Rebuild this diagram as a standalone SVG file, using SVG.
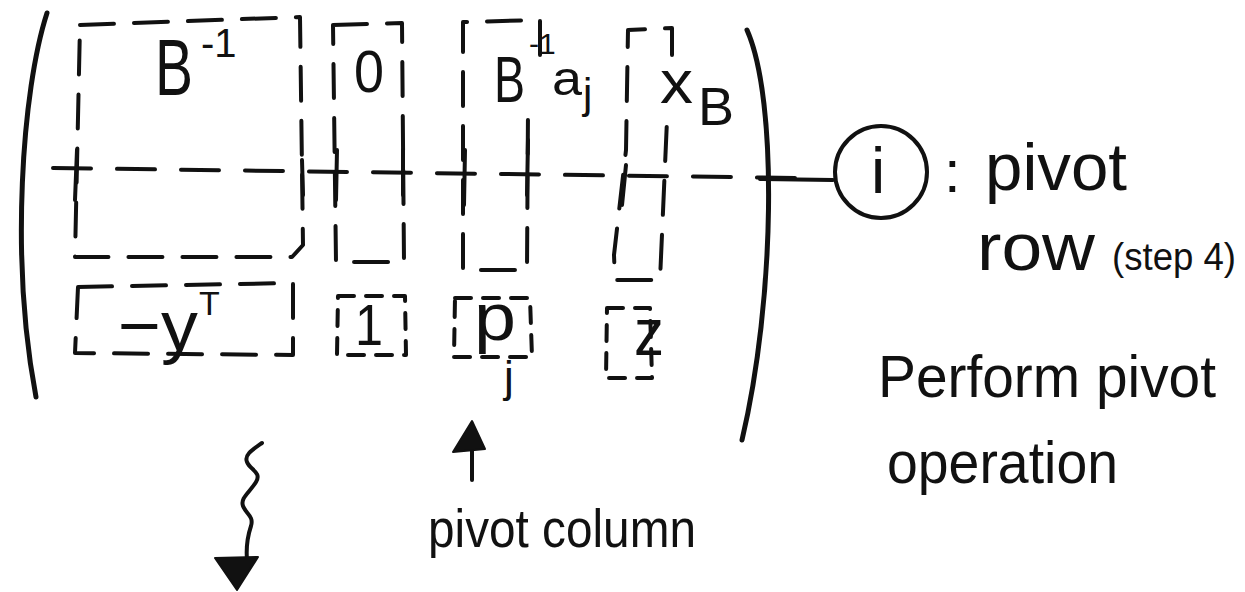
<svg xmlns="http://www.w3.org/2000/svg" width="1245" height="592" viewBox="0 0 1245 592">
<style>
  .ink { stroke:#111; fill:none; stroke-linecap:round; stroke-linejoin:round; }
  .paren { stroke-width:5; }
  .dash { stroke-width:4; stroke-dasharray:34 20; }
  .dashs { stroke-width:4; stroke-dasharray:16 12; }
  .tick { stroke-width:4; }
  .t { font-family:"Liberation Sans", Arial, sans-serif; fill:#111; }
</style>
<rect width="1245" height="592" fill="#fff"/>

<g id="matrix">
  <path class="ink paren" d="M47,13 C22,90 10,260 36,397"/>
  <path class="ink paren" d="M747,30 C778,100 775,300 742,440"/>
  <path class="ink tick" d="M53,168 L800,178" style="stroke-dasharray:38 26"/>
</g>

<g id="box-Binv">
  <path class="ink dash" d="M80,25 L300,17 L303,245 L292,257 L75,257 Z"/>
  <path class="ink tick" d="M77,150 L75,200 M302,160 L303,195"/>
  <text class="t" x="155" y="95" font-size="80"><tspan textLength="38" lengthAdjust="spacingAndGlyphs">B</tspan><tspan x="201" y="57" font-size="40">-1</tspan></text>
</g>

<g id="box-zero">
  <path class="ink dash" d="M333,25 L402,23 L404,262 L336,262 Z"/>
  <path class="ink tick" d="M337,150 L336,200 M403,150 L403,195"/>
  <text class="t" x="354" y="92" font-size="60" textLength="30" lengthAdjust="spacingAndGlyphs">0</text>
</g>

<g id="box-Binv-aj">
  <path class="ink dash" d="M540,55 L540,20 L463,22 L463,270 L527,270 L528,110"/>
  <path class="ink tick" d="M465,150 L464,205 M528,140 L527,195"/>
  <text class="t" x="494" y="102" font-size="64"><tspan textLength="31" lengthAdjust="spacingAndGlyphs">B</tspan><tspan x="529" y="54" font-size="30">-1</tspan></text>
  <text class="t" x="552" y="95" font-size="48"><tspan textLength="30" lengthAdjust="spacingAndGlyphs">a</tspan><tspan x="583" y="108" font-size="42">j</tspan></text>
</g>

<g id="box-xB">
  <path class="ink dash" d="M672,55 L672,28 L628,30 L626,150 L614,255 L615,280 L660,280 L667,120"/>
  <path class="ink tick" d="M626,165 L622,205"/>
  <text class="t" x="660" y="103" font-size="62"><tspan textLength="33" lengthAdjust="spacingAndGlyphs">x</tspan><tspan x="698" y="125" font-size="54">B</tspan></text>
</g>

<g id="box-yT">
  <path class="ink dash" d="M78,287 L293,283 L293,355 L75,353 Z"/>
  <text class="t" x="118" y="350" font-size="70"><tspan textLength="80" lengthAdjust="spacingAndGlyphs">−y</tspan><tspan x="199" y="315" font-size="34">T</tspan></text>
</g>

<g id="box-one">
  <path class="ink dashs" d="M338,296 L405,296 L406,355 L337,355 Z"/>
  <text class="t" x="355" y="345" font-size="58" textLength="28" lengthAdjust="spacingAndGlyphs">1</text>
</g>

<g id="box-pj">
  <path class="ink dashs" d="M455,298 L530,298 L532,357 L454,357 Z"/>
  <text class="t" x="474" y="340" font-size="66"><tspan textLength="42" lengthAdjust="spacingAndGlyphs">p</tspan><tspan x="504" y="392" font-size="44">j</tspan></text>
</g>

<g id="box-z">
  <path class="ink dashs" d="M607,308 L650,308 L652,378 L606,378 Z"/>
  <text class="t" x="634" y="355" font-size="66" textLength="30" lengthAdjust="spacingAndGlyphs">z</text>
</g>

<g id="pivot-row-label">
  <ellipse class="ink tick" cx="881" cy="172" rx="46" ry="46"/>
  <text class="t" x="878" y="193" font-size="64" text-anchor="middle">i</text>
  <text class="t" x="944" y="192" font-size="60">:</text>
  <text class="t" x="985" y="190" font-size="66" textLength="142" lengthAdjust="spacingAndGlyphs">pivot</text>
  <text class="t" x="977" y="270" font-size="66" textLength="118" lengthAdjust="spacingAndGlyphs">row</text>
  <text class="t" x="1112" y="270" font-size="38" textLength="124" lengthAdjust="spacingAndGlyphs">(step 4)</text>
</g>

<g id="perform-label">
  <text class="t" x="878" y="397" font-size="60" textLength="338" lengthAdjust="spacingAndGlyphs">Perform pivot</text>
  <text class="t" x="887" y="483" font-size="60" textLength="231" lengthAdjust="spacingAndGlyphs">operation</text>
</g>

<g id="pivot-column-label">
  <text class="t" x="428" y="547" font-size="54" textLength="268" lengthAdjust="spacingAndGlyphs">pivot column</text>
</g>

<g id="connectors">
  <path class="ink tick" d="M760,179 L833,180"/>
  <path class="ink tick" d="M472,480 L472,440"/>
  <polygon points="453,452 472,421 485,449" fill="#111" stroke="#111" stroke-width="2" stroke-linejoin="round"/>
  <path class="ink tick" d="M262,443 C252,450 244,455 247,462 C250,470 262,472 256,482 C250,492 240,498 243,506 C246,514 254,516 251,526 C247,538 246,548 247,560"/>
  <polygon points="215,558 258,557 237,590" fill="#111" stroke="#111" stroke-width="2" stroke-linejoin="round"/>
</g>
</svg>
